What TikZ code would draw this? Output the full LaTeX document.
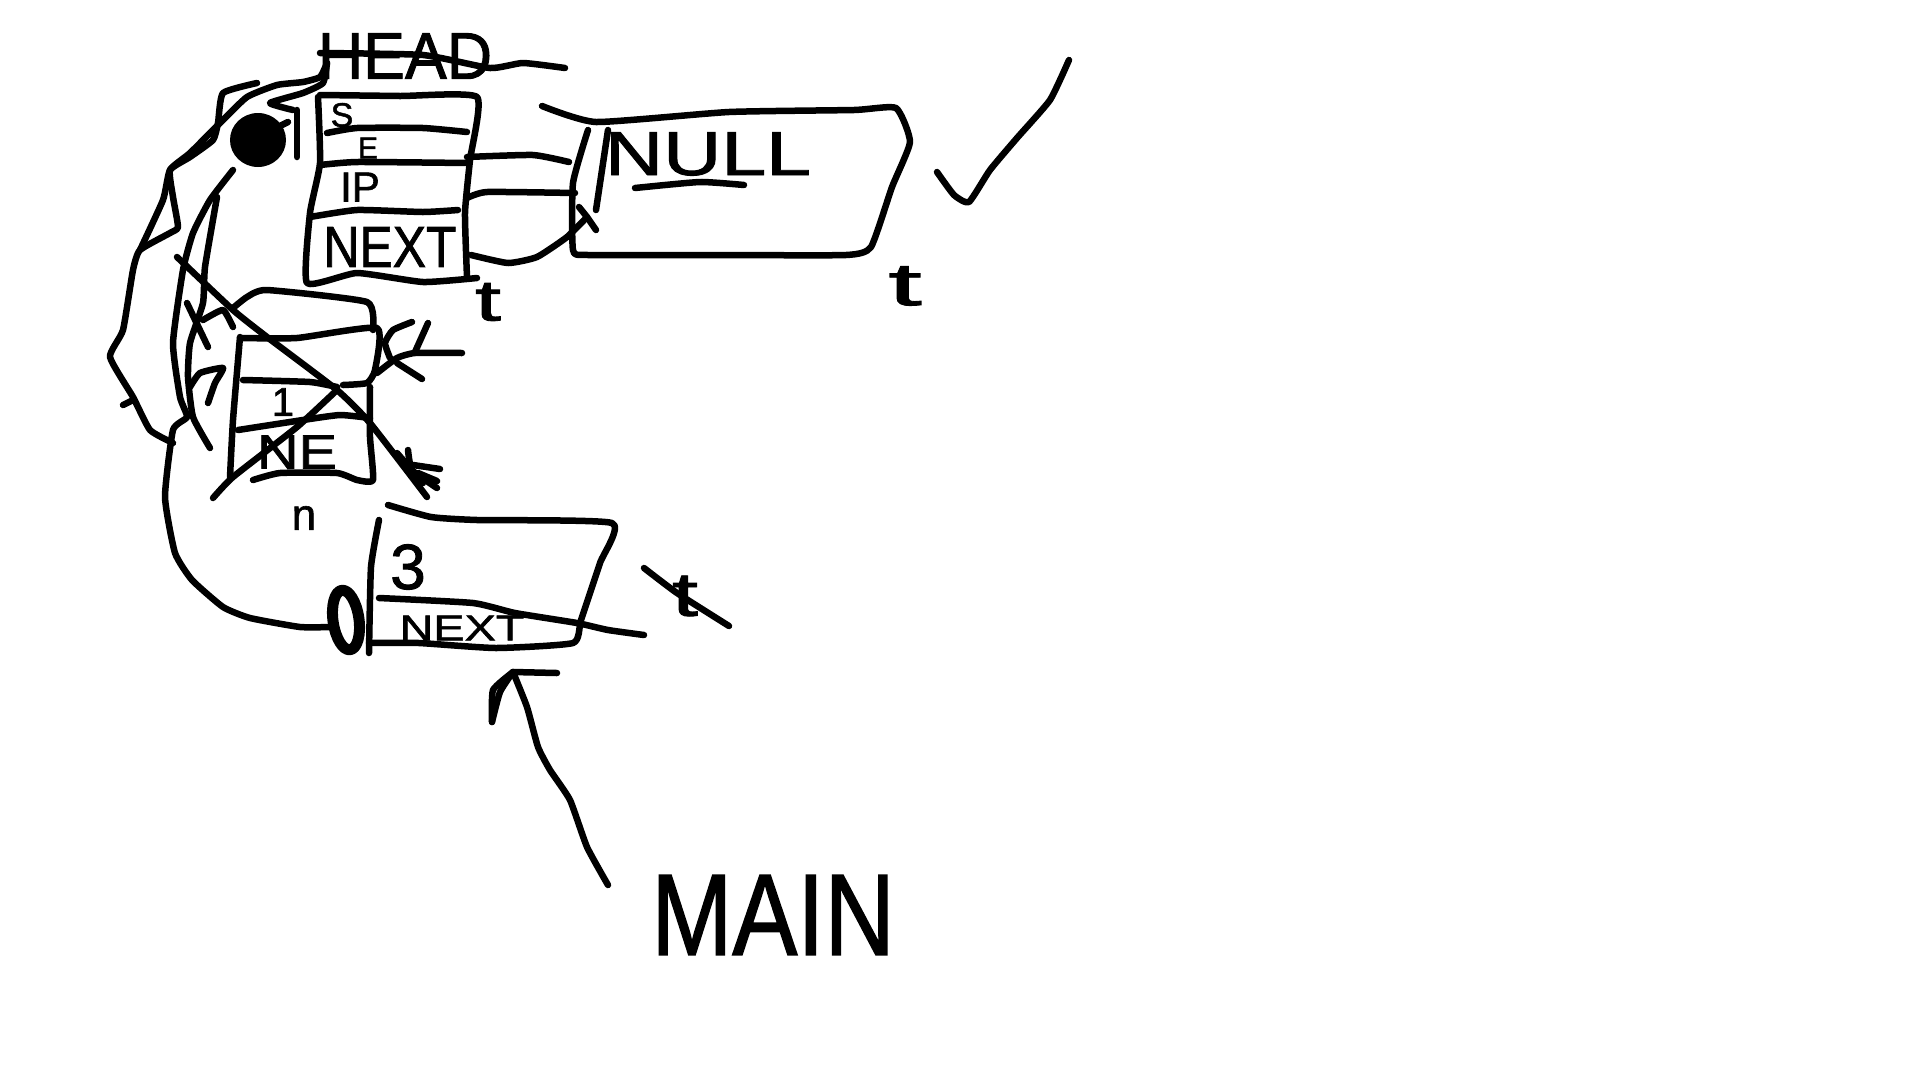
\documentclass[tikz,border=0pt]{standalone}
\usepackage{fontspec}
\setmainfont{Liberation Sans}
\newfontfamily\inkfont{Liberation Sans}[FakeBold=1.4]
\newcommand{\fs}[1]{\fontsize{#1}{#1}\selectfont}
\newcommand{\ink}[1]{\draw[inkline] plot[smooth,tension=.3] coordinates {#1};}
\tikzset{
  inkline/.style={line width=6.5pt,line cap=round,line join=round,black},
  label/.style={inner sep=0pt,outer sep=0pt,text=black,font=\inkfont},
  biglabel/.style={inner sep=0pt,outer sep=0pt,text=black,font=\inkfont}
}
\begin{document}
\begin{tikzpicture}[x=1pt,y=-1pt]
\useasboundingbox (0,0) rectangle (1920,1080);
% labels
\node[biglabel] (head) at (405,56) {\fs{66}\scalebox{.95}[1]{HEAD}};
\node[label] (s) at (342,115) {\fs{34}S};
\node[label] (e) at (368,148) {\fs{30}E};
\node[label] (ip) at (360,187) {\fs{42}IP};
\node[biglabel] (nexta) at (390,247) {\fs{58}\scalebox{.86}[1]{NEXT}};
\node[biglabel] (nul) at (708,154) {\fs{62}\scalebox{1.3}[1]{NULL}};
\node[biglabel] (ta) at (488,302) {\fs{58}\scalebox{1.6}[1]{t}};
\node[biglabel] (tb) at (905,286) {\fs{60}\scalebox{2}[1]{t}};
\node[label] (one) at (283,402) {\fs{40}1};
\node[label] (ne) at (297,452) {\fs{48}\scalebox{1.2}[1]{NE}};
\node[label] (n) at (304,518) {\fs{44}n};
\node[biglabel] (three) at (408,567) {\fs{64}3};
\node[label] (nextb) at (462,628) {\fs{36}\scalebox{1.3}[1]{NEXT}};
\node[biglabel] (tc) at (685,596) {\fs{62}\scalebox{1.5}[1]{t}};
\node[biglabel] (main) at (773,915) {\fs{116}\scalebox{.84}[1]{MAIN}};
% head strike
\ink{(320,53) (423,55) (490,68) (523,63) (565,68)}
% main record
\ink{(320,95) (400,96) (477,97) (470,160) (465,213) (467,277)}
\ink{(318,97) (320,163) (310,213) (307,283) (357,273) (423,282) (477,278)}
\ink{(327,133) (357,128) (423,128) (467,132)}
\ink{(320,165) (357,162) (467,163)}
\ink{(310,217) (357,210) (423,212) (458,210)}
% links to NULL box
\ink{(467,157) (533,155) (569,162)}
\ink{(467,198) (487,192) (575,193)}
\ink{(471,255) (508,263) (537,257) (567,237) (587,217)}
\ink{(579,207) (587,217) (596,230)}
% NULL box
\ink{(542,106) (596,122) (729,112) (854,110) (896,108) (910,142) (892,187) (871,247) (846,255) (720,255) (588,255) (573,250) (573,183) (588,130)}
\ink{(608,130) (602,170) (596,210)}
\ink{(635,188) (700,182) (744,185)}
% check
\ink{(937,172) (954,195) (969,202) (990,170) (1017,138) (1050,100) (1069,60)}
% left strands
\ink{(327,63) (320,77) (303,82) (277,85) (247,97) (220,123) (190,153) (170,170) (173,197) (178,227) (170,233) (140,250) (133,270) (123,330) (110,357) (133,397) (150,430) (173,443)}
\ink{(257,83) (223,93) (218,123) (213,140) (190,157) (170,170) (163,200) (140,250)}
\ink{(123,405) (133,400)}
\ink{(327,63) (323,83) (303,93) (270,103) (293,110)}
\draw[inkline] (297,110) -- (297,157);
\fill[black] (258,140) ellipse[x radius=28,y radius=27];
\draw[inkline] (276,128) -- (288,122);
% strands from dot
\ink{(233,170) (210,200) (193,233) (183,270) (173,343) (180,397) (187,417) (173,430) (165,497) (175,553) (192,580) (223,607) (250,618) (300,627) (331,627)}
\ink{(217,197) (205,267) (203,303) (190,343) (188,377) (193,417) (210,448)}
\draw[inkline,line width=11pt] (346,620) ellipse[x radius=13,y radius=30,rotate=8];
% crossed record
\ink{(233,308) (247,297) (267,290) (367,302) (373,330)}
\ink{(240,338) (297,338) (377,328) (375,370) (367,383) (343,385)}
\ink{(370,387) (370,437) (373,480) (357,480) (337,473) (280,473) (253,480)}
\ink{(240,337) (233,420) (230,477)}
\ink{(243,380) (310,382) (337,387)}
\ink{(238,430) (303,420) (340,415) (370,418)}
\ink{(177,257) (233,310) (267,337) (337,390) (370,423) (427,497)}
\ink{(213,498) (233,477) (297,427) (337,390)}
% arrow feathers
\ink{(397,453) (423,483)}
\ink{(408,450) (412,470) (437,488)}
\draw[inkline] (413,465) -- (440,469);
\draw[inkline] (418,473) -- (437,481);
% right arrow and C
\ink{(412,322) (393,330) (385,343) (390,358)}
\ink{(377,373) (397,358) (415,353) (462,353)}
\draw[inkline] (428,323) -- (415,352);
\draw[inkline] (397,363) -- (422,379);
% left scribbles
\draw[inkline] (187,303) -- (208,347);
\ink{(203,320) (223,310) (233,327)}
\ink{(208,403) (215,383) (223,368) (200,373) (190,387)}
% bottom record
\ink{(388,505) (431,517) (477,520) (612,523) (600,563) (581,620) (573,643) (496,648) (419,643) (369,643)}
\ink{(379,520) (371,567) (369,653)}
\ink{(379,598) (473,603) (515,613) (577,623) (608,630) (644,635)}
% strike through third t
\ink{(644,568) (677,593) (729,626)}
% arrow to bottom record
\ink{(608,885) (587,847) (570,800) (550,770) (538,747) (527,707) (513,672)}
\draw[inkline] (513,672) -- (557,673);
\ink{(492,722) (493,690) (513,672)}
\ink{(492,722) (500,692) (513,672)}
\end{tikzpicture}
\end{document}
